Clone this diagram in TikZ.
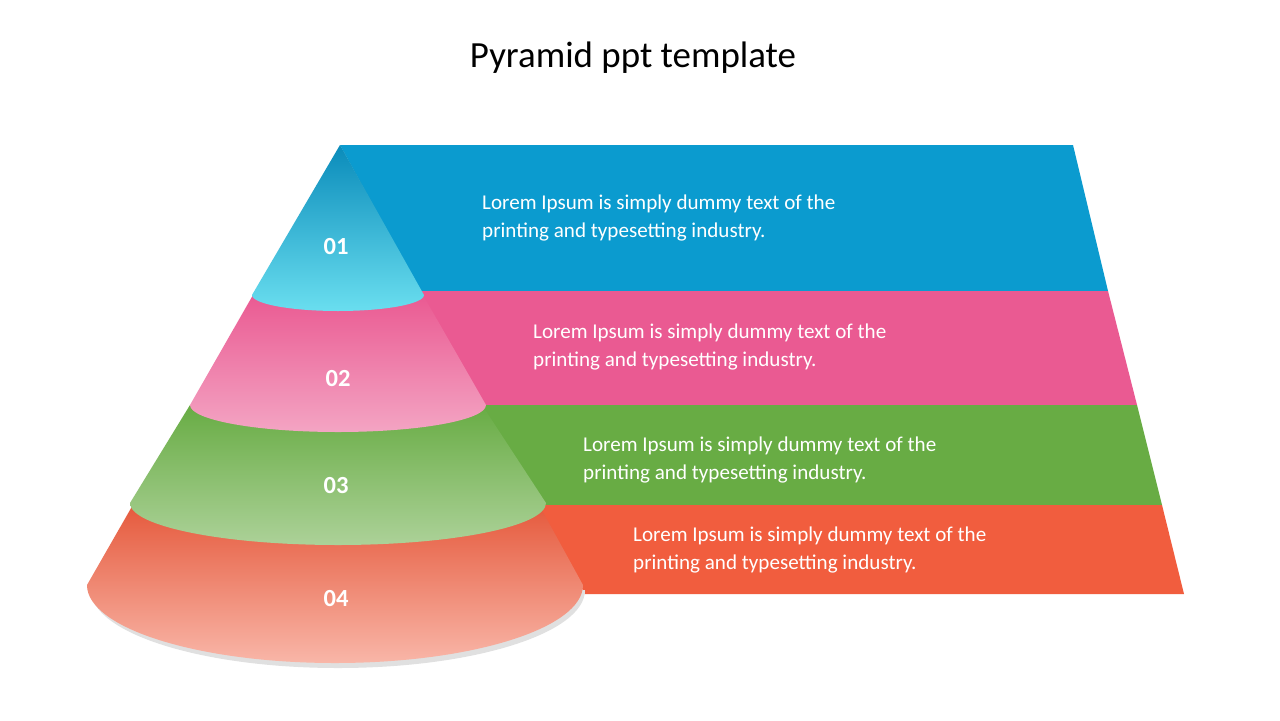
\documentclass[tikz,border=0pt]{standalone}
\usepackage{fontspec}
\setmainfont{Carlito}
\definecolor{bB}{HTML}{0B9BCF}
\definecolor{bP}{HTML}{EA5A92}
\definecolor{bG}{HTML}{68AC44}
\definecolor{bO}{HTML}{F15D3E}
\tikzset{bandtxt/.style={anchor=west,align=left,text=white,font=\fontsize{12}{16.4}\selectfont},
num/.style={text=white,font=\fontsize{14}{16}\selectfont\bfseries}}
\begin{document}
\begin{tikzpicture}[x=0.02cm,y=-0.02cm]
\useasboundingbox (0,0) rectangle (1280,720);
\fill[white] (0,0) rectangle (1280,720);
\node (title) at (633,58) {\fontsize{21}{24}\selectfont Pyramid ppt template};
% bands
\fill[bB] (340,145) -- (1073,145) -- (1108,291) -- (420,291) -- cycle;
\fill[bP] (420,291) -- (1108,291) -- (1137,405) -- (482,405) -- cycle;
\fill[bG] (482,405) -- (1137,405) -- (1162,505) -- (537,505) -- cycle;
\fill[bO] (537,505) -- (1162,505) -- (1184,594) -- (585,594) -- cycle;
% cone segments, bottom first
\fill[black!12] (91,590) arc[start angle=180,end angle=0,x radius=247,y radius=78] -- (585,590) -- cycle;
\shade[top color=bO!95!black, bottom color=bO!45!white] (134,503) -- (87,585) arc[start angle=180,end angle=0,x radius=248,y radius=78] -- (538,503) -- cycle;
\shade[top color=bG, bottom color=bG!55!white] (190,405) -- (130,503) arc[start angle=180,end angle=0,x radius=208,y radius=42] -- (482,405) -- cycle;
\shade[top color=bP, bottom color=bP!55!white] (253,295) -- (190,405) arc[start angle=180,end angle=0,x radius=148,y radius=27] -- (486,405) -- (423,295) -- cycle;
\shade[top color=bB!90!black, bottom color=bB!55!cyan!60!white] (340,145) -- (252,295) arc[start angle=180,end angle=0,x radius=86,y radius=16] -- cycle;
\node[num] (n1) at (336,247) {01};
\node[num] (n2) at (338,379) {02};
\node[num] (n3) at (336,486) {03};
\node[num] (n4) at (336,599) {04};
\node[bandtxt] (t1) at (476,218) {Lorem Ipsum is simply dummy text of the\\printing and typesetting industry.};
\node[bandtxt] (t2) at (527,347) {Lorem Ipsum is simply dummy text of the\\printing and typesetting industry.};
\node[bandtxt] (t3) at (577,460) {Lorem Ipsum is simply dummy text of the\\printing and typesetting industry.};
\node[bandtxt] (t4) at (627,550) {Lorem Ipsum is simply dummy text of the\\printing and typesetting industry.};
\end{tikzpicture}
\end{document}
